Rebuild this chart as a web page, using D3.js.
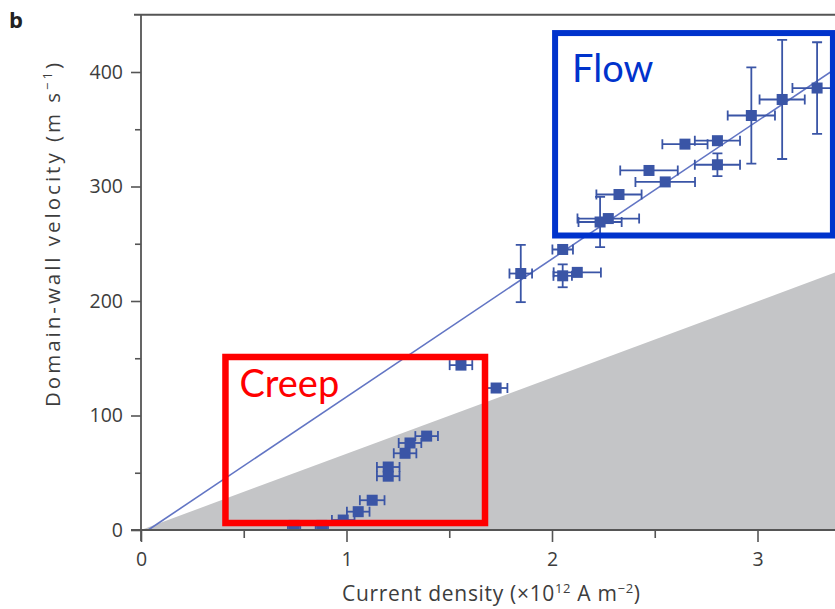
<!DOCTYPE html>
<html><head><meta charset="utf-8">
<script src="https://cdn.jsdelivr.net/npm/d3@7"></script>
<style>
html,body{margin:0;padding:0;background:#fff;}
svg{display:block;}
</style></head>
<body>
<svg id="chart" width="835" height="609"></svg>
<script>
// ---- data ----
const currentDensity = [3.29, 3.12, 2.97, 2.805, 2.805, 2.647, 2.551, 2.472, 2.326, 2.274, 2.234, 2.052, 1.848, 2.052, 2.123,
  1.557, 1.728, 1.39, 1.309, 1.285, 1.203, 1.203, 1.125, 1.057, 0.984, 0.745, 0.88];
const velocity = [386, 376, 362, 340, 319, 337, 304, 314, 293, 272, 269, 245, 224, 222, 225,
  144, 124, 82, 76, 67, 55, 47, 26, 16, 8.7, 4, 4];
const currentErr = [0.12, 0.11, 0.115, 0.11, 0.11, 0.11, 0.145, 0.14, 0.11, 0.15, 0.105, 0.05, 0.055, 0.045, 0.115,
  0.055, 0.055, 0.055, 0.055, 0.055, 0.055, 0.055, 0.06, 0.055, 0.055, 0.03, 0.03];
const velocityErr = [40, 52, 42, 0, 10, 0, 0, 0, 0, 0, 22, 0, 25, 10, 0,
  0, 0, 0, 0, 0, 0, 0, 0, 0, 0, 0, 0];
const fitLine = [[0.035, 0], [3.38, 403]];
const creepBoundary = [[0, 0], [3.38, 225]];
const xMajorTicks = [0, 1, 2, 3];
const xMinorTicks = [0.5, 1.5, 2.5];
const yMajorTicks = [0, 100, 200, 300, 400];
const yMinorTicks = [50, 150, 250, 350];
const creepBox = {x0: 0.411, x1: 1.674, y0: 6.1, y1: 151.1, label: "Creep"};
const flowBox = {x0: 2.015, x1: 3.367, y0: 257.2, y1: 434, label: "Flow"};

// ---- layout ----
const svg = d3.select("#chart");
const x = d3.scaleLinear().domain([0, 3.38]).range([141, 141 + 205.5 * 3.38]);
const y = d3.scaleLinear().domain([0, 450]).range([530, 530 - 1.145 * 450]);
const axisColor = "#555";
const textColor = "#3d3d3d";
const markColor = "#3a55a6";

svg.append("defs").append("clipPath").attr("id", "plotClip")
  .append("rect").attr("x", x(0)).attr("y", y(450)).attr("width", 835 - x(0)).attr("height", y(0) - y(450));

// grey creep region
svg.append("path")
  .attr("d", d3.line()([[x(creepBoundary[0][0]), y(0)], [x(creepBoundary[1][0]), y(creepBoundary[1][1])], [x(creepBoundary[1][0]), y(0)]]) + "Z")
  .attr("fill", "#c4c5c7");

// fit line
svg.append("path")
  .attr("d", d3.line().x(d => x(d[0])).y(d => y(d[1]))(fitLine))
  .attr("stroke", "#6275c4").attr("stroke-width", 1.6).attr("fill", "none");

// axes
const xAxisG = svg.append("g").attr("transform", `translate(0,${y(0)})`);
xAxisG.call(d3.axisBottom(x).tickValues(xMajorTicks).tickSize(12).tickPadding(10).tickFormat(d3.format("d")));
const xMinorG = svg.append("g").attr("transform", `translate(0,${y(0)})`);
xMinorG.call(d3.axisBottom(x).tickValues(xMinorTicks).tickSize(8).tickFormat(""));
const yAxisG = svg.append("g").attr("transform", `translate(${x(0)},0)`);
yAxisG.call(d3.axisLeft(y).tickValues(yMajorTicks).tickSize(10).tickPadding(8).tickFormat(d3.format("d")));
const yMinorG = svg.append("g").attr("transform", `translate(${x(0)},0)`);
yMinorG.call(d3.axisLeft(y).tickValues(yMinorTicks).tickSize(6).tickFormat(""));
svg.selectAll(".domain").remove();
svg.selectAll(".tick line").attr("stroke", axisColor).attr("stroke-width", 1.6);
svg.selectAll(".tick text").attr("fill", textColor).style("font-family", "'Open Sans', sans-serif").style("font-size", "19.5px");

// error bars + markers (clipped to the plot area)
const plot = svg.append("g").attr("clip-path", "url(#plotClip)");
const pts = currentDensity.map((c, i) => ({c, v: velocity[i], ce: currentErr[i], ve: velocityErr[i]}));
const eb = plot.append("g").attr("stroke", markColor).attr("stroke-width", 1.8).attr("fill", "none");
const cap = 5;
pts.forEach(p => {
  const cx = x(p.c), cy = y(p.v);
  if (p.ce > 0) {
    const xl = x(p.c - p.ce), xr = x(p.c + p.ce);
    eb.append("line").attr("x1", xl).attr("x2", xr).attr("y1", cy).attr("y2", cy);
    eb.append("line").attr("x1", xl).attr("x2", xl).attr("y1", cy - cap).attr("y2", cy + cap);
    eb.append("line").attr("x1", xr).attr("x2", xr).attr("y1", cy - cap).attr("y2", cy + cap);
  }
  if (p.ve > 0) {
    const yt = y(p.v + p.ve), yb = y(p.v - p.ve);
    eb.append("line").attr("x1", cx).attr("x2", cx).attr("y1", yt).attr("y2", yb);
    eb.append("line").attr("x1", cx - cap).attr("x2", cx + cap).attr("y1", yt).attr("y2", yt);
    eb.append("line").attr("x1", cx - cap).attr("x2", cx + cap).attr("y1", yb).attr("y2", yb);
  }
});
const ms = 11;
plot.append("g").selectAll("rect").data(pts).join("rect")
  .attr("x", d => x(d.c) - ms / 2).attr("y", d => y(d.v) - ms / 2)
  .attr("width", ms).attr("height", ms).attr("fill", markColor);

// axis lines
svg.append("line").attr("x1", x(0) - 10).attr("x2", 835).attr("y1", y(0)).attr("y2", y(0)).attr("stroke", axisColor).attr("stroke-width", 1.8);
svg.append("line").attr("x1", x(0)).attr("x2", x(0)).attr("y1", y(450)).attr("y2", y(0) + 11).attr("stroke", axisColor).attr("stroke-width", 1.8);
svg.append("line").attr("x1", x(0) - 7).attr("x2", 835).attr("y1", y(450)).attr("y2", y(450)).attr("stroke", axisColor).attr("stroke-width", 1.8);

// annotation boxes
function box(b, color, sw, tx, ty) {
  svg.append("rect")
    .attr("x", x(b.x0)).attr("y", y(b.y1))
    .attr("width", x(b.x1) - x(b.x0)).attr("height", y(b.y0) - y(b.y1))
    .attr("fill", "none").attr("stroke", color).attr("stroke-width", sw);
  svg.append("text").attr("x", x(b.x0) + tx).attr("y", y(b.y1) + ty)
    .attr("fill", color).style("font-family", "Lato, 'Open Sans', sans-serif").style("font-size", "38px")
    .text(b.label);
}
box(creepBox, "#ff0000", 6.5, 14, 40);
box(flowBox, "#0033cc", 6, 17, 49);

// axis titles
svg.append("text").attr("x", 342).attr("y", 601)
  .attr("textLength", 298).attr("lengthAdjust", "spacing")
  .attr("fill", textColor).style("font-family", "'Open Sans', sans-serif").style("font-size", "21px")
  .html("Current density (×10<tspan dy='-8' font-size='13px'>12</tspan><tspan dy='8'> A m</tspan><tspan dy='-8' font-size='13px'>−2</tspan><tspan dy='8'>)</tspan>");
svg.append("text").attr("transform", "translate(60,407) rotate(-90)")
  .attr("textLength", 344).attr("lengthAdjust", "spacing")
  .attr("fill", textColor).style("font-family", "'Open Sans', sans-serif").style("font-size", "20.5px")
  .html("Domain-wall velocity (m s<tspan dy='-8' font-size='13px'>−1</tspan><tspan dy='8'>)</tspan>");

// panel letter
svg.append("text").attr("x", 9).attr("y", 28).attr("fill", "#222")
  .style("font-family", "'Open Sans', sans-serif").style("font-size", "22px").style("font-weight", "bold").text("b");
</script>
</body></html>
